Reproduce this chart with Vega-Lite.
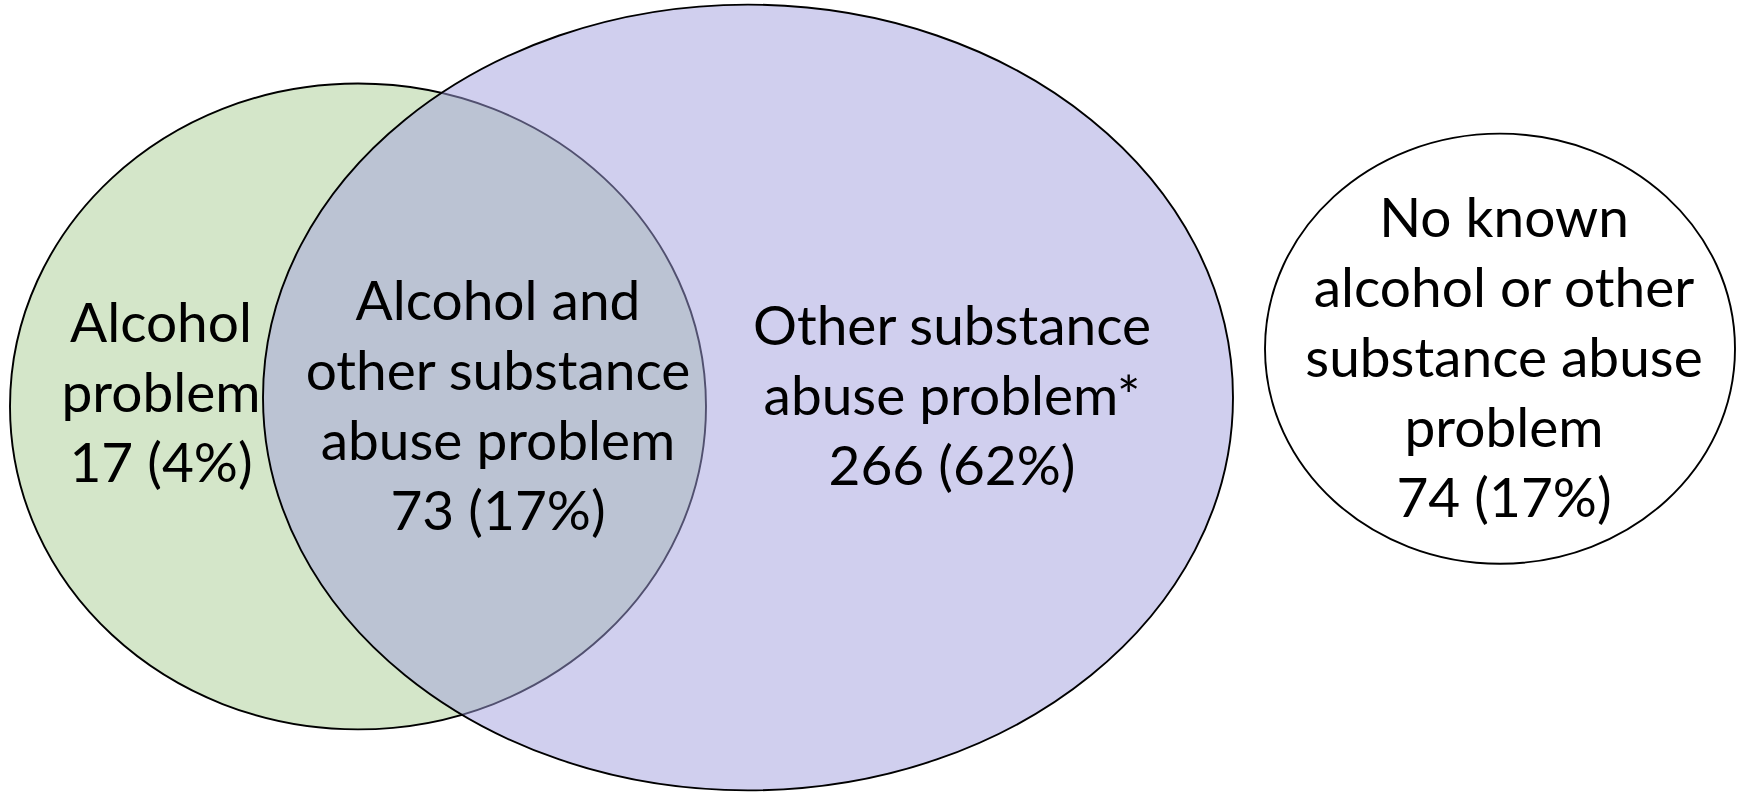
{
  "$schema": "https://vega.github.io/schema/vega-lite/v6.json",
  "width": 1739,
  "height": 793,
  "autosize": {"type": "fit", "contains": "padding"},
  "padding": 0,
  "background": "white",
  "config": {"view": {"stroke": null}},
  "datasets": {
    "sets": [
      {"name": "Alcohol problem", "cx": 358, "cy": 408, "rx": 348, "ry": 323},
      {"name": "Other substance abuse problem", "cx": 748, "cy": 399, "rx": 485, "ry": 393},
      {"name": "No known problem", "cx": 1500, "cy": 350, "rx": 235, "ry": 215}
    ],
    "labels": [
      {"label": "Alcohol\nproblem\n17 (4%)", "x": 161, "y": 326},
      {"label": "Alcohol and\nother substance\nabuse problem\n73 (17%)", "x": 498, "y": 304},
      {"label": "Other substance\nabuse problem*\n266 (62%)", "x": 952, "y": 329},
      {"label": "No known\nalcohol or other\nsubstance abuse\nproblem\n74 (17%)", "x": 1504, "y": 221}
    ]
  },
  "layer": [
    {
      "data": {"name": "sets"},
      "mark": {"type": "point", "filled": true, "stroke": "black", "strokeWidth": 1.9, "opacity": 1},
      "encoding": {
        "x": {"field": "cx", "type": "quantitative", "scale": {"domain": [0, 1739], "nice": false, "zero": false}, "axis": null},
        "y": {"field": "cy", "type": "quantitative", "scale": {"domain": [0, 793], "nice": false, "zero": false, "reverse": true}, "axis": null},
        "size": {"field": "rx", "type": "quantitative", "scale": {"type": "pow", "exponent": 2, "domain": [0, 1000], "range": [0, 4000000]}, "legend": null},
        "shape": {"field": "name", "type": "nominal", "scale": {"domain": ["Alcohol problem", "Other substance abuse problem", "No known problem"], "range": [
          "M1,0C1,0.5125,0.5523,0.928,0,0.928C-0.5523,0.928,-1,0.5125,-1,0C-1,-0.5125,-0.5523,-0.928,0,-0.928C0.5523,-0.928,1,-0.5125,1,0Z",
          "M1,0C1,0.4474,0.5523,0.81,0,0.81C-0.5523,0.81,-1,0.4474,-1,0C-1,-0.4474,-0.5523,-0.81,0,-0.81C0.5523,-0.81,1,-0.4474,1,0Z",
          "M1,0C1,0.5053,0.5523,0.915,0,0.915C-0.5523,0.915,-1,0.5053,-1,0C-1,-0.5053,-0.5523,-0.915,0,-0.915C0.5523,-0.915,1,-0.5053,1,0Z"
        ]}, "legend": null},
        "color": {"field": "name", "type": "nominal", "scale": {"domain": ["Alcohol problem", "Other substance abuse problem", "No known problem"], "range": ["#d4e6c9", "rgba(161,159,221,0.5)", "#ffffff"]}, "legend": null}
      }
    },
    {
      "data": {"name": "labels"},
      "mark": {"type": "text", "font": "Lato", "fontSize": 55, "lineHeight": 70, "lineBreak": "\n", "align": "center", "baseline": "middle", "color": "black"},
      "encoding": {
        "x": {"field": "x", "type": "quantitative", "scale": {"domain": [0, 1739], "nice": false, "zero": false}, "axis": null},
        "y": {"field": "y", "type": "quantitative", "scale": {"domain": [0, 793], "nice": false, "zero": false, "reverse": true}, "axis": null},
        "text": {"field": "label", "type": "nominal"}
      }
    }
  ]
}
